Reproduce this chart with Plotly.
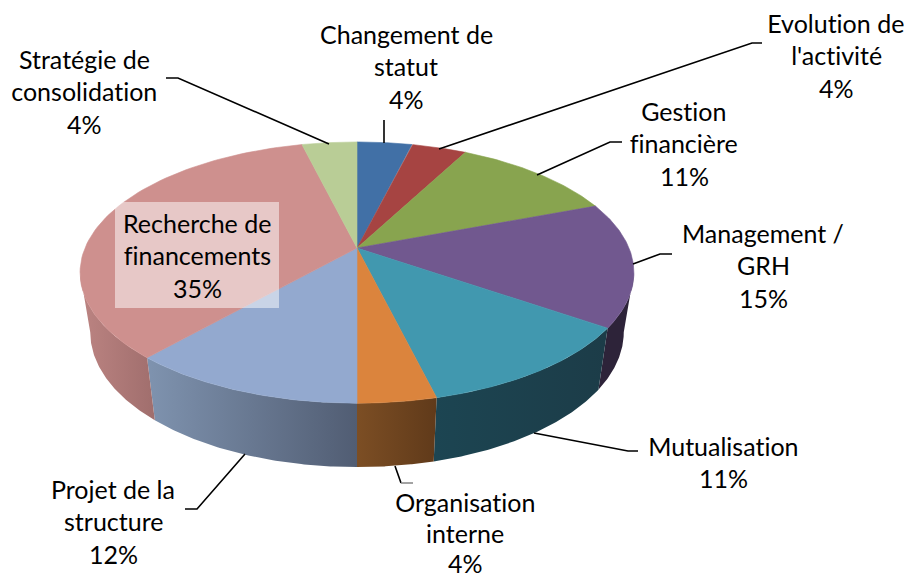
import numpy as np
import plotly.graph_objects as go

# Data, clockwise from 12 o'clock
categories = ["Changement de statut", "Evolution de l'activité", "Gestion financière",
              "Management / GRH", "Mutualisation", "Organisation interne",
              "Projet de la structure", "Recherche de financements", "Stratégie de consolidation"]
slice_values = [1, 1, 3, 4, 3, 1, 3, 9, 1]
percent_labels = ["4%", "4%", "11%", "15%", "11%", "4%", "12%", "35%", "4%"]
label_lines = [["Changement de", "statut"], ["Evolution de", "l'activité"], ["Gestion", "financière"],
               ["Management /", "GRH"], ["Mutualisation"], ["Organisation", "interne"],
               ["Projet de la", "structure"], ["Recherche de", "financements"], ["Stratégie de", "consolidation"]]

# Styles and layout
top_colors = ["#4170A6", "#A64442", "#88A44F", "#71588F", "#4198AF", "#DB843D", "#93A9CF", "#CE908E", "#B9CD96"]
wall_gradients = {
    3: ("#2D2339", "#2D2339"),
    4: ("#1C4552", "#1C3C48"),
    5: ("#7C4E24", "#603A1A"),
    6: ("#7F93AF", "#515D73"),
    7: ("#BC8482", "#A06E6D"),
}
label_centers = [406, 836, 684, 763, 723, 465, 113, 197, 84]
label_first_y = [34, 23, 111, 233, 446, 502, 489, 223, 59]
line_steps = [32.3, 32.3, 32.3, 32.3, 32.3, 30.5, 32.3, 32.3, 32.3]
leaders = [
    [(384, 120), (384, 143)],
    [(439, 149), (752, 43), (762, 43)],
    [(537, 175), (610, 142), (622, 142)],
    [(633, 264), (660, 254), (672, 254)],
    [(534, 433), (628, 451), (638, 451)],
    [(395, 466), (401, 483)],
    [(245, 454), (197, 509), (185, 509)],
    [(329, 144), (178, 78), (166, 78)],
]
CX, CY, A, B, P = 357, 248, 272, 126, 0.188
LOW_CY, LOW_A, LOW_B = 307, 262, 130
VIS_START, VIS_END = np.degrees(np.arccos(-P)), 360 - np.degrees(np.arccos(-P))


def project(theta, cy, a, b):
    t = np.radians(theta)
    x, y = np.sin(t), np.cos(t)
    w = 1 + P * y
    return CX + a * x / w, cy - b * y / w


fig = go.Figure()
edges = 360 * np.concatenate([[0], np.cumsum(slice_values)]) / np.sum(slice_values)

# Side walls
for i, (c0, c1) in wall_gradients.items():
    t0, t1 = max(edges[i], VIS_START), min(edges[i + 1], VIS_END)
    th = np.linspace(t0, t1, 80)
    xu, yu = project(th, CY, A, B)
    xl, yl = project(th[::-1], LOW_CY, LOW_A, LOW_B)
    fig.add_trace(go.Scatter(
        x=np.r_[xu, xl], y=np.r_[yu, yl], mode="lines", fill="toself", line=dict(width=0),
        fillgradient=dict(type="horizontal", colorscale=[[0, c0], [1, c1]]),
        hoverinfo="skip", showlegend=False))

# Top face
for i, name in enumerate(categories):
    th = np.linspace(edges[i], edges[i + 1], 80)
    xr, yr = project(th, CY, A, B)
    fig.add_trace(go.Scatter(
        x=np.r_[CX, xr, CX], y=np.r_[CY, yr, CY], mode="lines", fill="toself",
        fillcolor=top_colors[i], line=dict(width=0.6, color=top_colors[i]),
        name=name, hoverinfo="name", showlegend=False))

# Leader lines
for pts in leaders:
    fig.add_trace(go.Scatter(x=[p[0] for p in pts], y=[p[1] for p in pts], mode="lines",
                             line=dict(color="black", width=1.6), hoverinfo="skip", showlegend=False))
fig.add_trace(go.Scatter(x=[401, 413], y=[483, 483], mode="lines",
                         line=dict(color="#8c8c8c", width=1.6), hoverinfo="skip", showlegend=False))

# Labels
for i, lines in enumerate(label_lines):
    for j, text in enumerate(lines + [percent_labels[i]]):
        fig.add_annotation(x=label_centers[i], y=label_first_y[i] + j * line_steps[i], text=text,
                           showarrow=False, xanchor="center", yanchor="middle",
                           font=dict(family="Lato", size=25, color="black"))

fig.add_shape(type="rect", x0=115, x1=279, y0=202, y1=308, line=dict(width=0),
              fillcolor="rgba(255,255,255,0.5)", layer="above")

fig.update_layout(
    width=904, height=578, margin=dict(l=0, r=0, t=0, b=0),
    paper_bgcolor="white", plot_bgcolor="white",
    xaxis=dict(range=[0, 904], visible=False, fixedrange=True),
    yaxis=dict(range=[578, 0], visible=False, fixedrange=True),
)
page_fix = ("document.body.style.margin='0';document.body.style.overflow='hidden';"
            "var s=document.createElement('style');"
            "s.textContent='svg text{font-variant-ligatures:none !important;font-feature-settings:\"liga\" 0 !important;}';"
            "document.head.appendChild(s);")
fig.write_html("out.html", post_script=page_fix, config={"displayModeBar": False})
